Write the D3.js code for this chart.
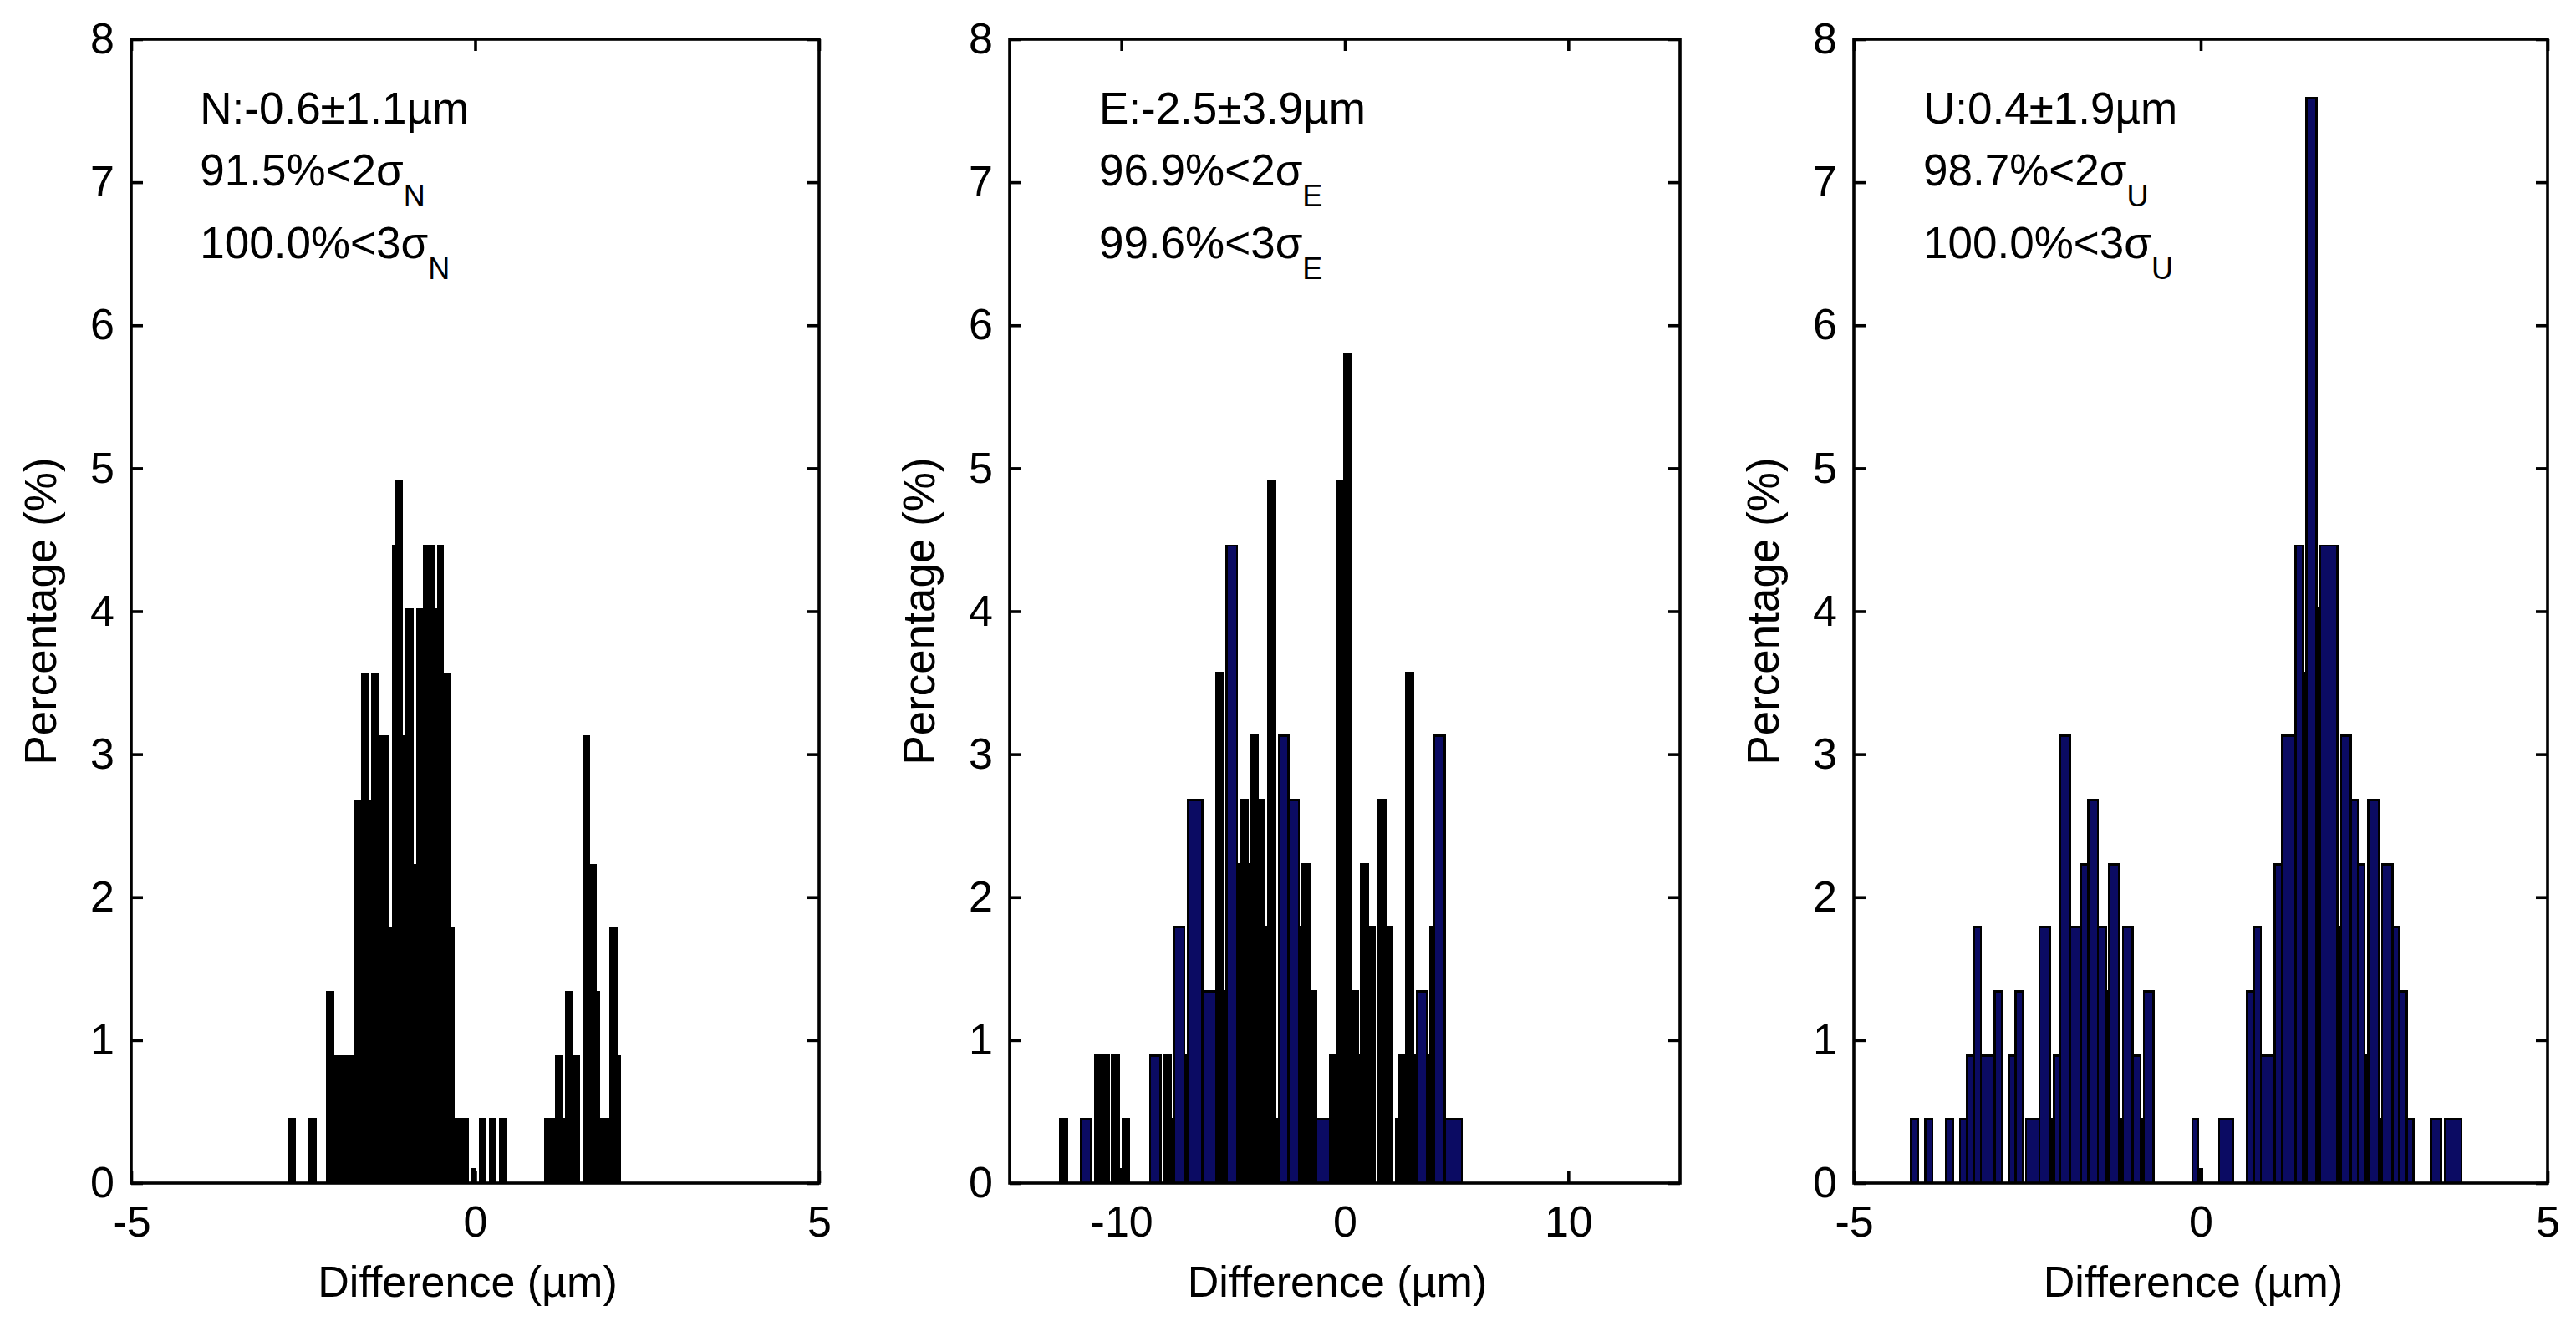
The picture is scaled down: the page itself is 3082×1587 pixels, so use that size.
<!DOCTYPE html>
<html>
<head>
<meta charset="utf-8">
<script src="https://cdn.jsdelivr.net/npm/d3@7"></script>
<style>
  html, body { margin: 0; padding: 0; background: #ffffff; }
  svg { display: block; }
</style>
</head>
<body>
<svg id="chart" width="3082" height="1587"></svg>
<script>
// ---------------- DATA ----------------
// Each bar: [left edge (µm), right edge (µm), percentage (%)]
const northBars = [
  [-2.716,-2.614,0.45],[-2.412,-2.311,0.45],[-2.161,-2.056,1.34],[-2.056,-1.756,0.89],
  [-1.756,-1.650,2.68],[-1.650,-1.561,3.57],[-1.561,-1.501,2.68],[-1.501,-1.407,3.57],
  [-1.407,-1.258,3.13],[-1.258,-1.205,1.79],[-1.205,-1.156,4.46],[-1.156,-1.055,4.91],
  [-1.055,-1.006,3.13],[-1.006,-0.905,4.02],[-0.905,-0.853,2.23],[-0.853,-0.751,4.02],
  [-0.751,-0.601,4.46],[-0.601,-0.549,4.02],[-0.549,-0.456,4.46],[-0.456,-0.354,3.57],
  [-0.354,-0.306,1.79],[-0.306,-0.103,0.45],[-0.051,0.002,0.10],[0.059,0.152,0.45],
  [0.209,0.302,0.45],[0.354,0.456,0.45],[1.011,1.164,0.45],[1.164,1.266,0.89],
  [1.266,1.314,0.45],[1.314,1.416,1.34],[1.416,1.517,0.89],[1.565,1.667,3.13],
  [1.667,1.760,2.23],[1.760,1.813,1.34],[1.813,1.962,0.45],[1.962,2.064,1.79],
  [2.064,2.116,0.89]
];
const eastBars = [
  [-12.745,-12.433,0.45],[-11.810,-11.348,0.45],[-11.186,-10.874,0.89],[-10.874,-10.562,0.89],
  [-10.413,-10.101,0.89],[-10.101,-9.939,0.10],[-9.939,-9.652,0.45],[-8.717,-8.255,0.89],
  [-8.093,-7.781,0.89],[-7.781,-7.632,0.45],[-7.632,-7.171,1.79],[-7.171,-7.008,0.89],
  [-7.008,-6.385,2.68],[-6.385,-5.761,1.34],[-5.761,-5.450,3.57],[-5.450,-5.287,1.34],
  [-5.287,-4.826,4.46],[-4.826,-4.676,2.23],[-4.676,-4.365,2.68],[-4.365,-4.202,2.23],
  [-4.202,-3.916,3.13],[-3.916,-3.604,2.68],[-3.604,-3.429,1.79],[-3.429,-3.117,4.91],
  [-3.117,-2.955,0.45],[-2.955,-2.519,3.13],[-2.519,-2.058,2.68],[-2.058,-1.896,1.79],
  [-1.896,-1.584,2.23],[-1.584,-1.272,1.34],[-1.272,-0.648,0.45],[-0.648,-0.337,0.89],
  [-0.337,-0.025,4.91],[-0.025,0.262,5.80],[0.262,0.574,1.34],[0.574,0.736,0.89],
  [0.736,1.035,2.23],[1.035,1.347,1.79],[1.509,1.821,2.68],[1.821,2.132,1.79],
  [2.282,2.444,0.45],[2.444,2.756,0.89],[2.756,3.068,3.57],[3.068,3.230,0.89],
  [3.230,3.679,1.34],[3.679,3.841,0.89],[3.841,3.991,1.79],[3.991,4.464,3.13],
  [4.464,5.238,0.45]
];
const upBars = [
  [-4.173,-4.072,0.45],[-3.972,-3.871,0.45],[-3.671,-3.570,0.45],[-3.470,-3.369,0.45],
  [-3.369,-3.269,0.89],[-3.269,-3.169,1.79],[-3.169,-2.968,0.89],[-2.968,-2.867,1.34],
  [-2.767,-2.667,0.89],[-2.667,-2.566,1.34],[-2.518,-2.325,0.45],[-2.325,-2.173,1.79],
  [-2.173,-2.116,0.45],[-2.116,-2.024,0.89],[-2.024,-1.876,3.13],[-1.876,-1.723,1.79],
  [-1.723,-1.622,2.23],[-1.622,-1.482,2.68],[-1.482,-1.369,1.79],[-1.369,-1.321,1.34],
  [-1.321,-1.181,2.23],[-1.181,-1.120,0.45],[-1.120,-0.980,1.79],[-0.980,-0.871,0.89],
  [-0.871,-0.819,0.45],[-0.819,-0.679,1.34],[-0.124,-0.036,0.45],[-0.036,0.016,0.10],
  [0.265,0.466,0.45],[0.667,0.767,1.34],[0.767,0.867,1.79],[0.867,1.068,0.89],
  [1.068,1.169,2.23],[1.169,1.369,3.13],[1.369,1.470,4.46],[1.470,1.522,3.57],
  [1.522,1.671,7.59],[1.671,1.723,4.02],[1.723,1.972,4.46],[1.972,2.024,1.79],
  [2.024,2.165,3.13],[2.165,2.265,2.68],[2.265,2.365,2.23],[2.365,2.414,0.89],
  [2.414,2.566,2.68],[2.566,2.614,0.45],[2.614,2.767,2.23],[2.767,2.863,1.79],
  [2.863,2.968,1.34],[2.968,3.064,0.45],[3.317,3.466,0.45],[3.518,3.759,0.45]
];

const northXTicks = [-5, 0, 5];
const eastXTicks  = [-10, 0, 10];
const upXTicks    = [-5, 0, 5];
const yTicks      = [0, 1, 2, 3, 4, 5, 6, 7, 8];

const northStats = ["N:-0.6±1.1µm", "91.5%<2σ", "100.0%<3σ"];
const eastStats  = ["E:-2.5±3.9µm", "96.9%<2σ", "99.6%<3σ"];
const upStats    = ["U:0.4±1.9µm",  "98.7%<2σ", "100.0%<3σ"];
const statSubs   = ["N", "E", "U"];
const statTextX  = [-4, -11, -4];          // data x of annotation
const statTextY  = [7.41, 6.98, 6.47];     // data y of the three lines

const xLabel = "Difference (µm)";
const yLabel = "Percentage (%)";

// ---------------- LAYOUT / STYLE ----------------
const FONT = "'Liberation Sans', Arial, Helvetica, sans-serif";
const NAVY = "#0b0b63";
const TOP = 47, BOTTOM = 1416;
const LW = 3.6, TICK = 14;
const fmt = d => String(d);   // hyphen-minus, as in the reference

const panels = [
  { bars: northBars, domain: [-5, 5],   ticks: northXTicks, range: [157, 980],  stats: northStats, darkBelow: Infinity },
  { bars: eastBars,  domain: [-15, 15], ticks: eastXTicks,  range: [1208, 2010], stats: eastStats,  darkBelow: 9 },
  { bars: upBars,    domain: [-5, 5],   ticks: upXTicks,    range: [2218, 3048], stats: upStats,    darkBelow: 6 }
];

const svg = d3.select("#chart");
svg.append("rect").attr("width", 3082).attr("height", 1587).attr("fill", "#fff");

const y = d3.scaleLinear().domain([0, 8]).range([BOTTOM, TOP]);

function styleAxis(g, showLabels) {
  g.attr("font-family", FONT).attr("font-size", 52);
  g.select(".domain").remove();
  g.selectAll(".tick line").attr("stroke", "#000").attr("stroke-width", LW);
  g.selectAll(".tick text").attr("fill", "#000");
  if (!showLabels) g.selectAll(".tick text").remove();
}

panels.forEach((p, i) => {
  const x = d3.scaleLinear().domain(p.domain).range(p.range);
  const g = svg.append("g");

  // bars
  g.append("g").selectAll("rect")
    .data(p.bars)
    .join("rect")
    .attr("x", d => x(d[0]))
    .attr("width", d => x(d[1]) - x(d[0]))
    .attr("y", d => y(d[2]))
    .attr("height", d => y(0) - y(d[2]))
    .attr("fill", d => (x(d[1]) - x(d[0]) < p.darkBelow ? "#000" : NAVY))
    .attr("stroke", "#000")
    .attr("stroke-width", i === 0 ? 1 : 2.4)
    .attr("shape-rendering", "crispEdges");

  // axes (inward ticks on all four sides)
  g.append("g").attr("transform", `translate(0,${BOTTOM})`)
    .call(d3.axisBottom(x).tickValues(p.ticks).tickSize(-TICK).tickPadding(27).tickFormat(fmt))
    .call(a => styleAxis(a, true));
  g.append("g").attr("transform", `translate(0,${TOP})`)
    .call(d3.axisTop(x).tickValues(p.ticks).tickSize(-TICK))
    .call(a => styleAxis(a, false));
  g.append("g").attr("transform", `translate(${p.range[0]},0)`)
    .call(d3.axisLeft(y).tickValues(yTicks).tickSize(-TICK).tickPadding(20).tickFormat(fmt))
    .call(a => styleAxis(a, true));
  g.append("g").attr("transform", `translate(${p.range[1]},0)`)
    .call(d3.axisRight(y).tickValues(yTicks).tickSize(-TICK))
    .call(a => styleAxis(a, false));

  // box
  g.append("rect")
    .attr("x", p.range[0]).attr("y", TOP)
    .attr("width", p.range[1] - p.range[0]).attr("height", BOTTOM - TOP)
    .attr("fill", "none").attr("stroke", "#000").attr("stroke-width", LW);

  // axis labels
  g.append("text")
    .attr("x", (p.range[0] + p.range[1]) / 2 - 9).attr("y", 1552)
    .attr("text-anchor", "middle")
    .attr("font-family", FONT).attr("font-size", 52).attr("fill", "#000")
    .text(xLabel);
  g.append("text")
    .attr("transform", `translate(${p.range[0] - 90},${(TOP + BOTTOM) / 2}) rotate(-90)`)
    .attr("text-anchor", "middle")
    .attr("font-family", FONT).attr("font-size", 53).attr("fill", "#000")
    .text(yLabel);

  // annotation
  p.stats.forEach((s, k) => {
    const t = g.append("text")
      .attr("x", x(statTextX[i])).attr("y", y(statTextY[k]))
      .attr("font-family", FONT).attr("font-size", 53).attr("fill", "#000");
    t.append("tspan").text(s);
    if (k > 0) {
      t.append("tspan").attr("font-size", 36).attr("dy", 25).text(statSubs[i]);
    }
  });
});
</script>
</body>
</html>
